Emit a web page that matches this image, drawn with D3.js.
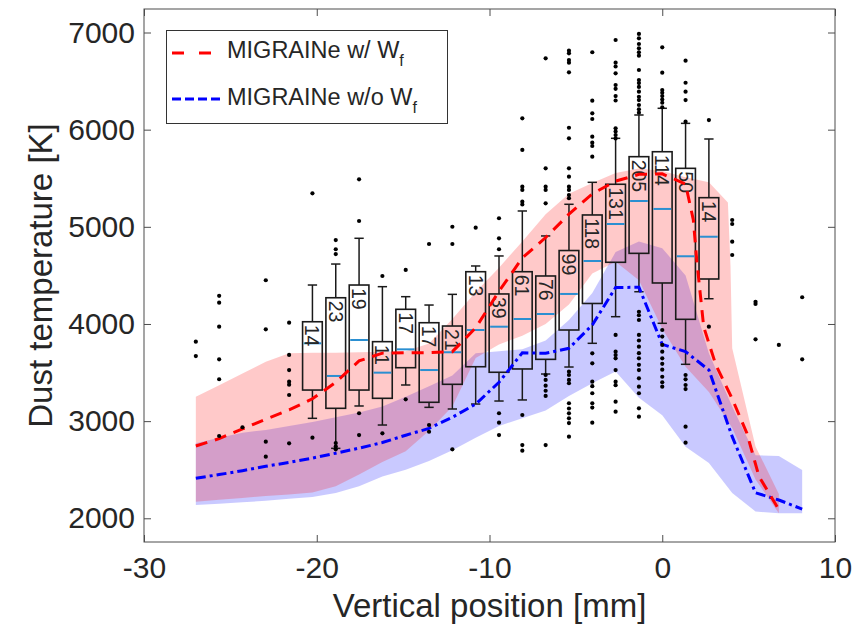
<!DOCTYPE html>
<html>
<head>
<meta charset="utf-8">
<script src="https://cdn.jsdelivr.net/npm/d3@7"></script>
<style>
body { margin: 0; background: #fff; }
text { font-family: "Liberation Sans", Arial, sans-serif; fill: #262626; }
</style>
</head>
<body>
<div id="chart"></div>
<script>
// box plot bins (vertical position in mm) and their statistics in K
var boxPos = [-20.25, -18.9, -17.55, -16.2, -14.85, -13.5, -12.15, -10.8, -9.45,
	-8.1, -6.75, -5.4, -4.05, -2.7, -1.35, 0, 1.35, 2.7];
var boxCount = [14, 23, 19, 11, 17, 17, 21, 13, 39, 61, 76, 99, 118, 131, 205, 114, 50, 14];
var boxQ1 = [3320, 3132, 3320, 3235, 3550, 3194, 3379, 3560, 3503, 3537, 3636, 3938, 4211, 4635, 4727, 4422, 4048, 4463];
var boxMed = [3801, 3465, 3835, 3499, 3739, 3526, 3709, 3938, 3972, 4051, 4103, 4309, 4648, 5029, 5266, 5184, 4697, 4898];
var boxQ3 = [4023, 4270, 4401, 3818, 4151, 4013, 3979, 4538, 4309, 4538, 4494, 4756, 5122, 5438, 5722, 5773, 5602, 5300];
var whiskLo = [3029, 2720, 3156, 2960, 3372, 3142, 3125, 3176, 3207, 3218, 3485, 3557, 3801, 4075, 4332, 4007, 3585, 4260];
var whiskHi = [4401, 4617, 4882, 4384, 4281, 4195, 4305, 4597, 4700, 5163, 4906, 5232, 5458, 5911, 6151, 6220, 6065, 5904];

// outliers: [position, temperatures]
var outliers = [
	[-27, [3818, 3670]],
	[-25.65, [4290, 4219, 3972, 3636, 3431, 2847]],
	[-24.3, [2937]],
	[-22.95, [4450, 3945, 2789, 2634]],
	[-21.6, [4013, 3681, 3526, 3406, 3375, 3269, 2772]],
	[-20.25, [5345, 2830]],
	[-18.9, [4864, 4769, 4720, 2775, 2740, 2710]],
	[-17.55, [5489, 5060, 3081, 2857]],
	[-16.2, [4494, 2875]],
	[-14.85, [4556, 3225]],
	[-13.5, [4823, 2960, 2891]],
	[-12.15, [5001, 4823, 2710]],
	[-10.8, [4991]],
	[-9.45, [5088, 4882, 4769, 3081, 2984, 2857]],
	[-8.1, [6117, 5791, 5413, 5380, 5259, 5230, 3063, 2754, 2696]],
	[-6.75, [6734, 5602, 5413, 5380, 5242, 3475, 3424, 3365, 3313, 3259, 2754]],
	[-5.4, [6813, 6786, 6717, 6690, 6590, 6020, 5911, 5602, 5516, 5413, 5380, 5327, 5294,
		3509, 3475, 3424, 3390, 3184, 3130, 3080, 3029, 2980, 2840]],
	[-4.05, [6797, 6298, 6168, 6110, 5928, 5866, 5832, 5722, 3698, 3595, 3406, 3360, 3287, 3184, 3140, 2984]],
	[-2.7, [6923, 6690, 6650, 6580, 6460, 6420, 6346, 6300, 6014, 5980, 5945, 5910,
		3887, 3715, 3680, 3647, 3526, 3406, 3370, 3200, 3097]],
	[-1.35, [6985, 6940, 6882, 6837, 6797, 6762, 6614, 6511, 6480, 6440, 6391, 6339, 6305, 6254, 6209, 6175,
		4126, 4090, 4041, 3887, 3830, 3766, 3700, 3647, 3580, 3526, 3441, 3355, 3287, 3132, 3046]],
	[0, [6848, 6587, 6408, 6380, 6346, 6310, 6277, 6230,
		3938, 3870, 3784, 3715, 3647, 3590, 3530, 3457, 3400, 3355]],
	[1.35, [6710, 6483, 6391, 6305, 6082, 3475, 3430, 3372, 3330, 2943, 2778]],
	[2.7, [6099, 3972]],
	[4.05, [5070, 5029, 4847, 4710]],
	[5.4, [4229, 4206, 3842]],
	[6.75, [3784]],
	[8.1, [4275, 3636]]
];

// model curves
var redX = [-27, -25.65, -24.3, -22.95, -21.6, -20.25, -18.9, -17.55, -16.2, -14.85, -13.5, -12.15,
	-10.8, -9.45, -8.1, -6.75, -5.4, -4.05, -2.7, -1.35, 0, 1.35, 1.8, 2.0, 2.4, 3.1, 4.05, 4.9, 5.6, 6.75];
var redT = [2744, 2820, 2920, 3020, 3115, 3230, 3400, 3620, 3700, 3704, 3705, 3715,
	3960, 4337, 4680, 4890, 5130, 5340, 5470, 5540, 5545, 5440, 5070, 4650, 3970, 3580, 3230, 2875, 2430, 2090];
var blueX = [-27, -25.65, -24.3, -22.95, -21.6, -20.25, -18.9, -17.55, -16.2, -14.85, -13.5, -12.15,
	-10.8, -9.45, -8.1, -6.75, -5.4, -4.05, -2.7, -1.35, 0, 1.35, 2.7, 4.05, 5.4, 6.75, 8.1];
var blueT = [2412, 2450, 2490, 2535, 2575, 2620, 2670, 2722, 2780, 2855, 2925, 3040,
	3175, 3400, 3704, 3698, 3750, 3990, 4375, 4378, 3790, 3715, 3526, 2840, 2263, 2188, 2095];

// spread bands
var redBandX = [-27, -25.65, -24.3, -22.95, -21.6, -20.25, -18.9, -17.55, -16.2, -14.85, -13.5, -12.15,
	-10.8, -9.45, -8.1, -6.75, -5.4, -4.05, -2.7, -1.35, 0, 1.35, 2.7, 3.8, 3.95, 4.05, 5.4, 6.75];
var redBandLo = [2171, 2190, 2210, 2230, 2245, 2265, 2330, 2450, 2580, 2690, 2900, 3150,
	3650, 3790, 3880, 4000, 4200, 4520, 4640, 4450, 3950, 3560, 3300, 2999, 2957, 2930, 2400, 2051];
var redBandHi = [3252, 3370, 3490, 3610, 3700, 3705, 3705, 3710, 3715, 3720, 3800, 4050,
	4330, 4580, 4850, 5130, 5340, 5450, 5555, 5600, 5575, 5510, 5460, 5250, 4600, 3750, 2740, 2250];
var blueBandX = [-27, -25.65, -24.3, -22.95, -21.6, -20.25, -18.9, -17.55, -16.2, -14.85, -13.5, -12.15,
	-10.8, -9.45, -8.1, -6.75, -5.4, -4.05, -2.7, -1.35, 0, 1.35, 2.7, 4.05, 5.4, 6.75, 8.1];
var blueBandLo = [2137, 2150, 2165, 2180, 2200, 2220, 2260, 2330, 2430, 2500, 2590, 2700,
	2830, 2950, 3030, 3110, 3260, 3390, 3510, 3240, 3060, 2737, 2570, 2260, 2070, 2051, 2051];
var blueBandHi = [2772, 2830, 2880, 2910, 2950, 2990, 3040, 3090, 3150, 3250, 3360, 3470,
	3700, 3720, 3740, 3830, 4040, 4320, 4740, 4850, 4780, 4500, 3700, 3150, 2650, 2640, 2497];

var xTicks = [-30, -20, -10, 0, 10];
var yTicks = [2000, 3000, 4000, 5000, 6000, 7000];
var legendLabels = ["MIGRAINe w/ W", "MIGRAINe w/o W"];

var W = 854, H = 634;
var plot = { left: 144, right: 835, top: 9, bottom: 542 };

var svg = d3.select("#chart").append("svg")
	.attr("width", W)
	.attr("height", H);

var x = d3.scaleLinear().domain([-30, 10]).range([plot.left, plot.right]);
var y = d3.scaleLinear().domain([1756, 7242]).range([plot.bottom, plot.top]);

// bands
function drawBand(xs, lo, hi, color) {
	var pts = xs.map(function (d, i) { return { x: d, lo: lo[i], hi: hi[i] }; });
	var area = d3.area()
		.x(function (d) { return x(d.x); })
		.y0(function (d) { return y(d.lo); })
		.y1(function (d) { return y(d.hi); });
	svg.append("path")
		.datum(pts)
		.attr("d", area)
		.attr("fill", color)
		.attr("fill-opacity", 0.21);
}
drawBand(blueBandX, blueBandLo, blueBandHi, "#0000ff");
drawBand(redBandX, redBandLo, redBandHi, "#ff0000");

// boxes
var boxHalf = 0.57, capHalf = 0.27;
var boxes = svg.append("g");
boxPos.forEach(function (p, i) {
	var g = boxes.append("g");
	var cx = x(p);
	g.append("line")
		.attr("x1", cx).attr("x2", cx)
		.attr("y1", y(boxQ3[i])).attr("y2", y(whiskHi[i]))
		.attr("stroke", "#1a1a1a").attr("stroke-width", 1.5);
	g.append("line")
		.attr("x1", cx).attr("x2", cx)
		.attr("y1", y(boxQ1[i])).attr("y2", y(whiskLo[i]))
		.attr("stroke", "#1a1a1a").attr("stroke-width", 1.5);
	[whiskHi[i], whiskLo[i]].forEach(function (w) {
		g.append("line")
			.attr("x1", x(p - capHalf)).attr("x2", x(p + capHalf))
			.attr("y1", y(w)).attr("y2", y(w))
			.attr("stroke", "#1a1a1a").attr("stroke-width", 1.5);
	});
	g.append("rect")
		.attr("x", x(p - boxHalf))
		.attr("width", x(p + boxHalf) - x(p - boxHalf))
		.attr("y", y(boxQ3[i]))
		.attr("height", y(boxQ1[i]) - y(boxQ3[i]))
		.attr("fill", "none")
		.attr("stroke", "#1a1a1a").attr("stroke-width", 1.6);
	g.append("line")
		.attr("x1", x(p - boxHalf) + 1).attr("x2", x(p + boxHalf) - 1)
		.attr("y1", y(boxMed[i])).attr("y2", y(boxMed[i]))
		.attr("stroke", "#2b8fd1").attr("stroke-width", 2);
	g.append("text")
		.attr("transform", "translate(" + (cx - 7) + "," + (y(boxQ3[i]) + 3) + ") rotate(90)")
		.style("font-size", "19.5px")
		.text(boxCount[i]);
});

// model lines
var line = d3.line()
	.x(function (d) { return x(d[0]); })
	.y(function (d) { return y(d[1]); });
svg.append("path")
	.datum(blueX.map(function (d, i) { return [d, blueT[i]]; }))
	.attr("d", line)
	.attr("fill", "none")
	.attr("stroke", "#0000ff")
	.attr("stroke-width", 3)
	.attr("stroke-dasharray", "10,4,3,4");
svg.append("path")
	.datum(redX.map(function (d, i) { return [d, redT[i]]; }))
	.attr("d", line)
	.attr("fill", "none")
	.attr("stroke", "#ff0000")
	.attr("stroke-width", 3)
	.attr("stroke-dasharray", "12,8");

// outliers
var dots = [];
outliers.forEach(function (o) {
	o[1].forEach(function (t) { dots.push({ x: o[0], t: t }); });
});
svg.append("g").selectAll("circle")
	.data(dots)
	.enter()
	.append("circle")
	.attr("cx", function (d) { return x(d.x); })
	.attr("cy", function (d) { return y(d.t); })
	.attr("r", 2.1)
	.attr("fill", "#000");

// axes
function styleAxis(g) {
	g.select(".domain").remove();
	g.selectAll(".tick line").attr("stroke", "#4d4d4d");
	g.selectAll("text").style("font-size", "30px").attr("fill", "#262626");
	g.attr("font-family", null).attr("font-size", null);
}
svg.append("g")
	.attr("transform", "translate(0," + plot.bottom + ")")
	.call(d3.axisBottom(x).tickValues(xTicks).tickSize(-7).tickPadding(15)
		.tickFormat(function (d) { return String(d); }))
	.call(styleAxis);
svg.append("g")
	.attr("transform", "translate(0," + plot.top + ")")
	.call(d3.axisTop(x).tickValues(xTicks).tickSize(-7).tickFormat(""))
	.call(styleAxis);
svg.append("g")
	.attr("transform", "translate(" + plot.left + ",0)")
	.call(d3.axisLeft(y).tickValues(yTicks).tickSize(-7).tickPadding(9)
		.tickFormat(function (d) { return String(d); }))
	.call(styleAxis);
svg.append("g")
	.attr("transform", "translate(" + plot.right + ",0)")
	.call(d3.axisRight(y).tickValues(yTicks).tickSize(-7).tickFormat(""))
	.call(styleAxis);

svg.append("rect")
	.attr("x", plot.left).attr("y", plot.top)
	.attr("width", plot.right - plot.left)
	.attr("height", plot.bottom - plot.top)
	.attr("fill", "none")
	.attr("stroke", "#4d4d4d")
	.attr("stroke-width", 1);

// axis labels
svg.append("text")
	.attr("x", (plot.left + plot.right) / 2)
	.attr("y", 617)
	.attr("text-anchor", "middle")
	.style("font-size", "33px")
	.text("Vertical position [mm]");
svg.append("text")
	.attr("transform", "translate(52," + (plot.top + plot.bottom) / 2 + ") rotate(-90)")
	.attr("text-anchor", "middle")
	.style("font-size", "33px")
	.text("Dust temperature [K]");

// legend
var legend = svg.append("g");
legend.append("rect")
	.attr("x", 166.5).attr("y", 30.5)
	.attr("width", 281).attr("height", 93)
	.attr("fill", "#fff")
	.attr("stroke", "#333")
	.attr("stroke-width", 1);
legend.append("line")
	.attr("x1", 172).attr("x2", 212).attr("y1", 53).attr("y2", 53)
	.attr("stroke", "#ff0000").attr("stroke-width", 3)
	.attr("stroke-dasharray", "12,15");
legend.append("line")
	.attr("x1", 172).attr("x2", 222).attr("y1", 99).attr("y2", 99)
	.attr("stroke", "#0000ff").attr("stroke-width", 3)
	.attr("stroke-dasharray", "9,4");
[58, 105].forEach(function (yy, i) {
	var t = legend.append("text")
		.attr("x", 227).attr("y", yy)
		.style("font-size", "23.5px");
	t.append("tspan").text(legendLabels[i]);
	t.append("tspan").attr("dy", 8).style("font-size", "16px").text("f");
});
</script>
</body>
</html>
